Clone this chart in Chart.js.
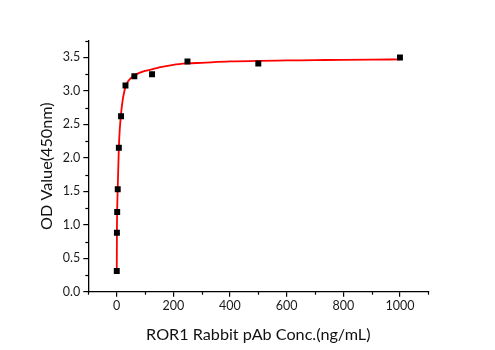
<!DOCTYPE html>
<html>
<head>
<meta charset="utf-8">
<title>ROR1 Rabbit pAb ELISA</title>
<script src="https://cdn.jsdelivr.net/npm/chart.js@4/dist/chart.umd.min.js"></script>
<style>
  html, body { margin: 0; padding: 0; background: #ffffff; }
  #wrap { width: 495px; height: 350px; }
</style>
</head>
<body>
<div id="wrap"><canvas id="c" width="495" height="350"></canvas></div>
<script>
// Measured standards: concentration (ng/mL) and OD at 450 nm
const concentrations = [0.49, 0.98, 1.95, 3.9, 7.8, 15.6, 31.25, 62.5, 125, 250, 500, 1000];
const odValues = [0.31, 0.88, 1.19, 1.53, 2.15, 2.62, 3.08, 3.22, 3.25, 3.44, 3.41, 3.50];

// Fitted standard curve, sampled along its length
const curveX = [0.49, 0.98, 1.95, 3.9, 7.8, 11, 15.6, 20, 25, 31.25, 40, 50, 62.5, 80, 100, 125, 150, 200, 250, 300, 400, 500, 600, 700, 800, 900, 1000];
const curveY = [0.31, 0.86, 1.22, 1.55, 2.15, 2.42, 2.66, 2.82, 2.95, 3.06, 3.14, 3.19, 3.23, 3.27, 3.30, 3.32, 3.35, 3.39, 3.41, 3.42, 3.44, 3.45, 3.455, 3.46, 3.465, 3.468, 3.47];

// Axis ranges and labelled ticks
const xRange = [-100, 1100];
const xStep = 100;
const xLabels = [0, 200, 400, 600, 800, 1000];
const yRange = [0, 3.75];
const yStep = 0.25;
const yLabels = [0.0, 0.5, 1.0, 1.5, 2.0, 2.5, 3.0, 3.5];

const toPoints = (xs, ys) => xs.map((x, i) => ({ x: x, y: ys[i] }));
const isLabelled = (list, v) => list.some(t => Math.abs(t - v) < 1e-6);

const FONT = "Lato, 'Open Sans', sans-serif";

// Short minor tick marks between the labelled ones
const minorTicks = {
  id: 'minorTicks',
  afterDraw(chart) {
    const ctx = chart.ctx;
    ctx.save();
    ctx.strokeStyle = '#000';
    ctx.lineWidth = 1.2;
    const xs = chart.scales.x, ys = chart.scales.y;
    xs.ticks.forEach(t => {
      if (isLabelled(xLabels, t.value)) return;
      const px = Math.round(xs.getPixelForValue(t.value)) + 0.5;
      ctx.beginPath();
      ctx.moveTo(px, xs.top);
      ctx.lineTo(px, xs.top + 3);
      ctx.stroke();
    });
    ys.ticks.forEach(t => {
      if (isLabelled(yLabels, t.value)) return;
      const py = Math.round(ys.getPixelForValue(t.value)) + 0.5;
      ctx.beginPath();
      ctx.moveTo(ys.right, py);
      ctx.lineTo(ys.right - 3, py);
      ctx.stroke();
    });
    ctx.restore();
  }
};

new Chart(document.getElementById('c'), {
  type: 'scatter',
  data: {
    datasets: [
      {
        label: 'Standards',
        data: toPoints(concentrations, odValues),
        pointStyle: 'rect',
        pointRadius: 4.2,
        pointHoverRadius: 4.2,
        backgroundColor: '#000',
        borderColor: '#000',
        borderWidth: 0,
        showLine: false
      },
      {
        label: 'Fit',
        data: toPoints(curveX, curveY),
        showLine: true,
        borderColor: '#ff0000',
        borderWidth: 1.8,
        pointRadius: 0,
        pointHoverRadius: 0,
        cubicInterpolationMode: 'monotone',
        fill: false
      }
    ]
  },
  options: {
    responsive: false,
    animation: false,
    layout: { padding: { top: 40.7, right: 66.7, left: 0, bottom: 0 } },
    plugins: { legend: { display: false }, tooltip: { enabled: false } },
    scales: {
      x: {
        type: 'linear',
        min: xRange[0],
        max: xRange[1],
        afterFit(scale) { scale.height = 58.3; },
        border: { display: true, color: '#000', width: 1.3 },
        grid: {
          display: true,
          drawOnChartArea: false,
          drawTicks: true,
          tickLength: 5,
          lineWidth: 1.2,
          color: ctx => (ctx.tick && isLabelled(xLabels, ctx.tick.value)) ? '#000' : 'rgba(0,0,0,0)'
        },
        ticks: {
          stepSize: xStep,
          autoSkip: false,
          maxRotation: 0,
          padding: 2,
          color: '#1a1a1a',
          font: { family: FONT, size: 12.5 },
          callback: v => isLabelled(xLabels, v) ? String(v) : ''
        },
        title: {
          display: true,
          text: 'ROR1 Rabbit pAb Conc.(ng/mL)',
          color: '#111',
          font: { family: FONT, size: 16.2 },
          padding: { top: 5.5, bottom: 5.5 }
        }
      },
      y: {
        type: 'linear',
        min: yRange[0],
        max: yRange[1],
        afterFit(scale) { scale.width = 88.3; },
        border: { display: true, color: '#000', width: 1.3 },
        grid: {
          display: true,
          drawOnChartArea: false,
          drawTicks: true,
          tickLength: 5,
          lineWidth: 1.2,
          color: ctx => (ctx.tick && isLabelled(yLabels, ctx.tick.value)) ? '#000' : 'rgba(0,0,0,0)'
        },
        ticks: {
          stepSize: yStep,
          autoSkip: false,
          padding: 3,
          color: '#1a1a1a',
          font: { family: FONT, size: 12.5 },
          callback: v => isLabelled(yLabels, v) ? v.toFixed(1) : ''
        },
        title: {
          display: true,
          text: 'OD Value(450nm)',
          color: '#111',
          font: { family: FONT, size: 16.2 },
          padding: { top: 37, bottom: 37 }
        }
      }
    }
  },
  plugins: [minorTicks]
});
</script>
</body>
</html>
